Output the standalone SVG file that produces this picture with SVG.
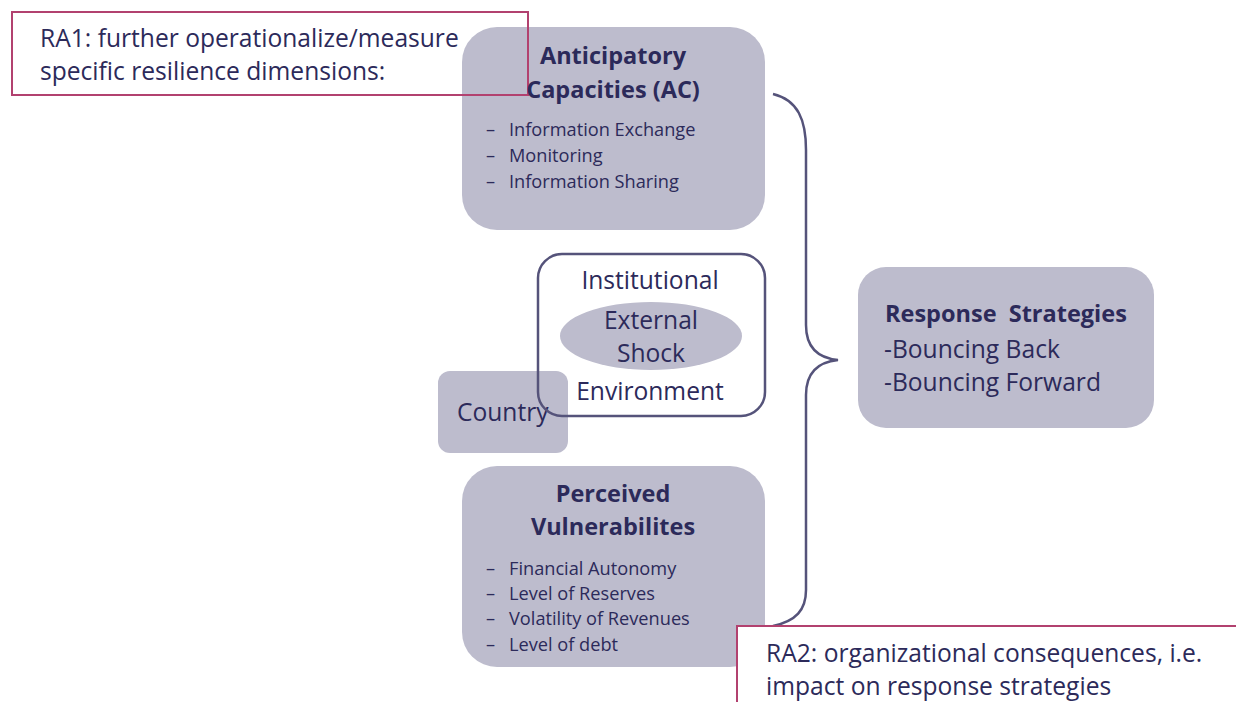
<svg xmlns="http://www.w3.org/2000/svg" width="1236" height="702" viewBox="0 0 1236 702">
<style>
.box{fill:#bdbccd;}
.t{font-family:"Open Sans",Lato,sans-serif;fill:#2c2a5a;}
.h{font-weight:bold;font-size:23.5px;text-anchor:middle;}
.li{font-size:18.2px;}
.big{font-size:24.6px;}
.ra{fill:none;stroke:#b2416f;stroke-width:2;}
.edge{fill:none;stroke:#55537a;stroke-width:2.5;}
</style>
<rect width="1236" height="702" fill="#ffffff"/>
<g id="country">
<rect class="box" x="438" y="371" width="130" height="82" rx="12"/>
<text class="t big" x="457" y="421">Country</text>
</g>
<g id="institutional">
<rect x="538" y="254" width="227" height="162" rx="24" fill="none" stroke="#55537a" stroke-width="2.5"/>
<ellipse class="box" cx="651" cy="336" rx="91" ry="34"/>
<text class="t big" x="650" y="289" text-anchor="middle">Institutional</text>
<text class="t big" x="651" y="329" text-anchor="middle">External</text>
<text class="t big" x="651" y="362" text-anchor="middle">Shock</text>
<text class="t big" x="650" y="400" text-anchor="middle">Environment</text>
</g>
<g id="ac">
<rect class="box" x="462" y="27" width="303" height="203" rx="35"/>
</g>
<g id="ra1">
<rect class="ra" x="12" y="12" width="516" height="83"/>
<text class="t big" x="40" y="47">RA1: further operationalize/measure</text>
<text class="t big" x="40" y="80">specific resilience dimensions:</text>
</g>
<g id="ac-text">
<text class="t h" x="613" y="64">Anticipatory</text>
<text class="t h" x="613" y="98">Capacities (AC)</text>
<text class="t li" x="486" y="136">–</text><text class="t li" x="509" y="136">Information Exchange</text>
<text class="t li" x="486" y="162">–</text><text class="t li" x="509" y="162">Monitoring</text>
<text class="t li" x="486" y="188">–</text><text class="t li" x="509" y="188">Information Sharing</text>
</g>
<g id="pv">
<rect class="box" x="462" y="466" width="303" height="201" rx="35"/>
<text class="t h" x="613" y="502">Perceived</text>
<text class="t h" x="613" y="535">Vulnerabilites</text>
<text class="t li" x="486" y="575">–</text><text class="t li" x="509" y="575">Financial Autonomy</text>
<text class="t li" x="486" y="600">–</text><text class="t li" x="509" y="600">Level of Reserves</text>
<text class="t li" x="486" y="625">–</text><text class="t li" x="509" y="625">Volatility of Revenues</text>
<text class="t li" x="486" y="651">–</text><text class="t li" x="509" y="651">Level of debt</text>
</g>
<g id="connectors">
<path class="edge" d="M773,94 C798,100 806,120 806,150 L806,325 C806,347 818,358 838,360 C818,362 806,373 806,395 L806,590 C806,610 796,621 773,626"/>
</g>
<g id="response">
<rect class="box" x="858" y="267" width="296" height="161" rx="28"/>
<text class="t" x="885" y="322" font-size="23.5" font-weight="bold" xml:space="preserve">Response  Strategies</text>
<text class="t big" x="884" y="358">-Bouncing Back</text>
<text class="t big" x="884" y="391">-Bouncing Forward</text>
</g>
<g id="ra2">
<rect x="737" y="626" width="520" height="90" fill="#ffffff" stroke="#b2416f" stroke-width="2"/>
<text class="t big" x="766" y="662">RA2: organizational consequences, i.e.</text>
<text class="t big" x="766" y="695">impact on response strategies</text>
</g>
</svg>
